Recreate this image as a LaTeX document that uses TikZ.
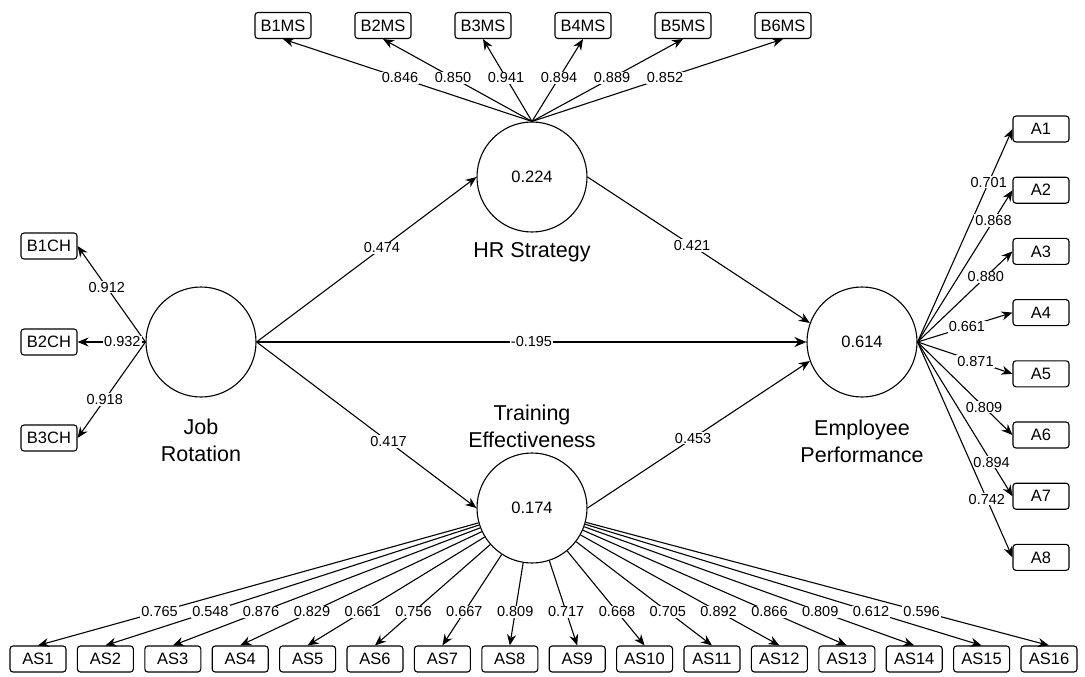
\documentclass[tikz,border=0pt]{standalone}
\usepackage{fontspec}
\setmainfont{Liberation Sans}
\usetikzlibrary{arrows.meta}
\begin{document}
\begin{tikzpicture}[x=1pt,y=-1pt,
  lat/.style={circle,draw,line width=1.1pt,minimum size=110pt,inner sep=0pt,font=\fontsize{16.5}{20}\selectfont},
  latlab/.style={align=center,font=\fontsize{21.5}{27}\selectfont},
  ind/.style={draw,rounded corners=3pt,line width=1.1pt,minimum width=56pt,minimum height=26pt,inner sep=0pt,font=\fontsize{16.5}{19}\selectfont},
  arr/.style={line width=1.1pt,-{Stealth[length=11pt,width=9pt]}},
  lbl/.style={fill=white,inner sep=1pt,font=\fontsize{14.5}{16}\selectfont}]
\useasboundingbox (0,0) rectangle (1085,677);

% latent variables
\node[lat] (JR) at (201,342) {};
\node[lat] (HR) at (532,177) {0.224};
\node[lat] (EP) at (862,342) {0.614};
\node[lat] (TE) at (532,508) {0.174};
\node[latlab] (JRl) at (201,440) {Job\\Rotation};
\node[latlab] (HRl) at (532,252) {HR Strategy};
\node[latlab] (EPl) at (862,441) {Employee\\Performance};
\node[latlab] (TEl) at (532,426) {Training\\Effectiveness};

% indicators
\foreach \i in {1,...,6} \node[ind] (B\i MS) at ({283+100*(\i-1)},25.5) {B\i MS};
\foreach \i in {1,2,3} \node[ind] (B\i CH) at (49,{246+96*(\i-1)}) {B\i CH};
\foreach \i in {1,...,8} \node[ind] (A\i) at (1041,{129+61.2*(\i-1)}) {A\i};
\foreach \i in {1,...,16} \node[ind] (AS\i) at ({38+67.4*(\i-1)},659) {AS\i};

% structural paths
\draw[arr] (JR.east) -- (HR.west) node[lbl,pos=0.57] {0.474};
\draw[line width=2.2pt,-{Stealth[length=12pt,width=10pt]}] (JR.east) -- (EP.west) node[lbl,pos=0.5,inner sep=0.5pt] {-0.195};
\draw[arr] (JR.east) -- (TE.west) node[lbl,pos=0.6] {0.417};
\draw[arr] (HR.east) -- (EP.160) node[lbl,pos=0.47] {0.421};
\draw[arr] (TE.east) -- (EP.200) node[lbl,pos=0.475] {0.453};

% HR loadings
\foreach \i/\v in {1/0.846,2/0.850,3/0.941,4/0.894,5/0.889,6/0.852}
  \draw[arr] (HR.north) -- (B\i MS.south) node[lbl,pos=0.53] {\v};

% JR loadings
\draw[arr] (JR.west) -- (B1CH.east) node[lbl,pos=0.57] {0.912};
\draw[arr] (JR.west) -- (B2CH.east) node[lbl,pos=0.34] {0.932};
\draw[arr] (JR.west) -- (B3CH.east) node[lbl,pos=0.6] {0.918};

% EP loadings
\foreach \i/\v/\p in {1/0.701/0.75,2/0.868/0.80,3/0.880/0.72,4/0.661/0.52,5/0.871/0.61,6/0.809/0.70,7/0.894/0.78,8/0.742/0.73}
  \draw[arr] (EP.east) -- (A\i.west) node[lbl,pos=\p] {\v};

% TE loadings
\foreach \i/\v/\p in {1/0.765/0.724,2/0.548/0.719,3/0.876/0.713,4/0.829/0.703,5/0.661/0.689,6/0.756/0.666,7/0.667/0.630,8/0.809/0.594,9/0.717/0.603,10/0.668/0.644,11/0.705/0.675,12/0.892/0.694,13/0.866/0.707,14/0.809/0.715,15/0.612/0.721,16/0.596/0.725}
  \draw[arr] (TE) -- (AS\i.north) node[lbl,pos=\p] {\v};
\end{tikzpicture}
\end{document}
